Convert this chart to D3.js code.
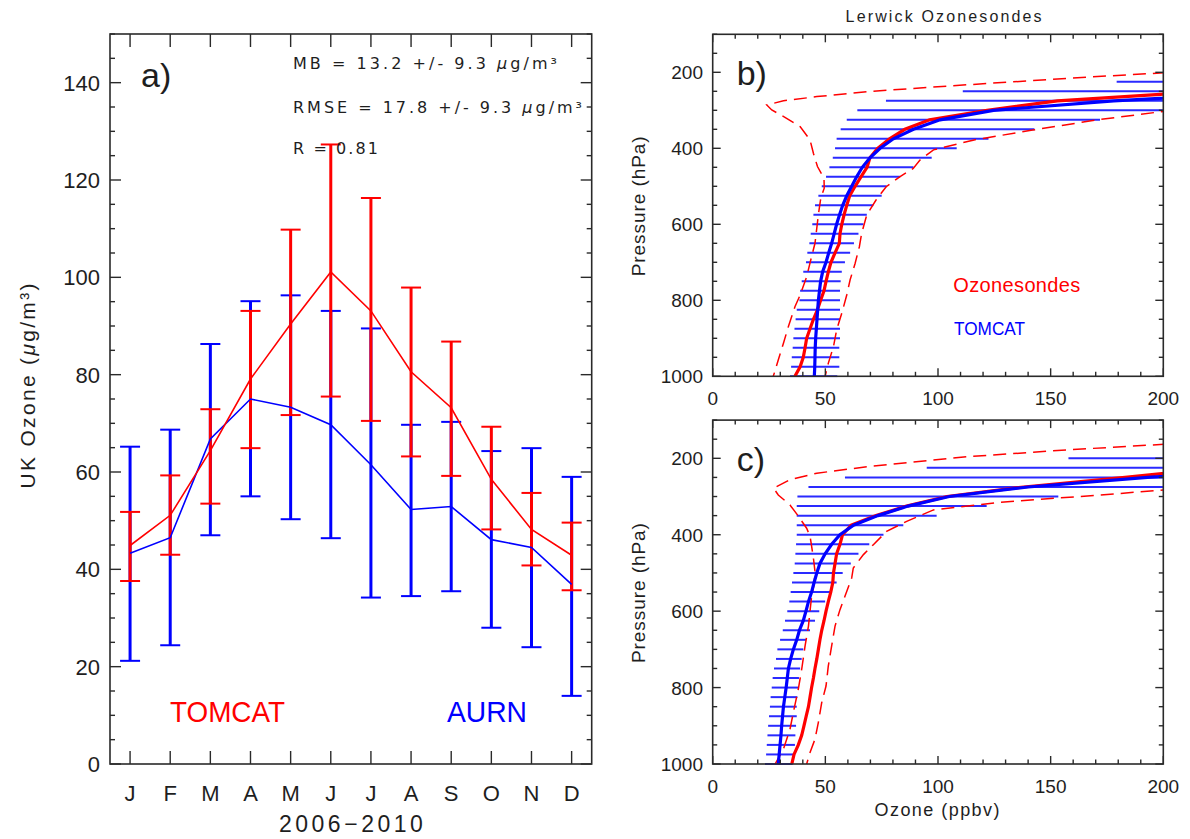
<!DOCTYPE html>
<html lang="en">
  <head>
    <meta charset="utf-8" />
    <title>UK Ozone and Lerwick Ozonesondes</title>
    <script src="https://cdnjs.cloudflare.com/ajax/libs/d3/7.0.0/d3.min.js"></script>
    <style>
      body {
        margin: 0;
        background: #ffffff;
      }
      svg {
        display: block;
        font-family: "Liberation Sans", Arial, sans-serif;
      }
      .frame {
        fill: none;
        stroke: #2a2a2a;
        stroke-width: 1.6px;
      }
      .tick {
        stroke: #2a2a2a;
        stroke-width: 1.4px;
      }
      .lbl {
        fill: #1e1e1e;
      }
      .stat {
        font-family: "DejaVu Sans", sans-serif;
      }
    </style>
  </head>

  <body>
    <script>
      // ---- panel a: monthly UK surface ozone 2006-2010 ----
      const months = ["J", "F", "M", "A", "M", "J", "J", "A", "S", "O", "N", "D"];
      const tomcatMean = [44.9, 51.1, 64.4, 79.1, 90.4, 101.1, 93.1, 80.6, 73.2, 58.5, 48.2, 42.9];
      const tomcatLo = [37.6, 43.0, 53.5, 64.9, 71.7, 75.5, 70.5, 63.2, 59.2, 48.2, 40.8, 35.7];
      const tomcatHi = [51.8, 59.3, 72.9, 93.1, 109.8, 127.3, 116.3, 97.9, 86.8, 69.3, 55.7, 49.6];
      const aurnMean = [43.3, 46.5, 66.8, 75.0, 73.3, 69.7, 61.5, 52.3, 52.9, 46.1, 44.5, 36.9];
      const aurnLo = [21.2, 24.4, 47.0, 55.0, 50.3, 46.4, 34.2, 34.5, 35.5, 28.0, 24.0, 14.0];
      const aurnHi = [65.2, 68.7, 86.3, 95.1, 96.3, 93.1, 89.5, 69.7, 70.3, 64.3, 64.9, 59.0];
      const ozoneTicks = [0, 20, 40, 60, 80, 100, 120, 140];

      // ---- panels b and c: Lerwick profiles (pressure in hPa, ozone in ppbv) ----
      const bLevels = [225, 250, 275, 300, 325, 350, 375, 400, 425, 450, 475, 500, 525, 550, 575, 600,
        625, 650, 675, 700, 725, 750, 775, 800, 825, 850, 875, 900, 925, 950, 975, 1000];
      const bTomLo = [179.3, 111.0, 76.9, 64.2, 59.5, 56.8, 55.0, 54.3, 53.3, 51.8, 50.3, 48.4, 46.9, 45.4, 44.7, 44.2,
        43.5, 42.9, 42.0, 41.4, 40.2, 39.5, 38.8, 38.5, 37.3, 36.8, 36.3, 35.8, 35.5, 35.1, 34.8, 34.3];
      const bTomHi = [260, 250, 240, 210, 171.9, 142.8, 122.4, 108.3, 97.2, 89.1, 83.2, 77.2, 75.0, 71.3, 68.4, 66.9,
        64.7, 62.7, 61.0, 58.7, 57.3, 56.8, 56.5, 56.5, 56.5, 56.5, 56.5, 56.5, 56.2, 56.2, 56.2, 55.3];
      const bTomMean = [350, 260, 178, 124.6, 100.9, 89.1, 80.2, 74.3, 69.8, 66.4, 63.9, 61.7, 59.5, 57.7, 56.3, 55.0,
        53.9, 52.8, 51.5, 50.3, 48.8, 47.9, 47.4, 46.9, 46.6, 46.3, 46.0, 45.7, 45.5, 45.4, 45.3, 45.1];
      const bSondeMean = [300, 220, 153, 121.8, 96.3, 85.3, 78.5, 73.2, 69.8, 68.5, 65.8, 63.2, 60.8, 59.5, 58.3, 57.3,
        56.5, 56.2, 54.3, 52.5, 51.3, 50.3, 49.4, 47.9, 46.5, 44.7, 43.2, 41.7, 41.0, 40.2, 38.8, 36.5];
      const bSondeLowP = [198, 216, 233, 251, 264, 275, 286, 299, 321, 343, 378, 413, 448, 479, 505, 530,
        575, 650, 685, 738, 786, 817, 869, 913, 957, 1000];
      const bSondeLowX = [210, 157, 112.7, 68.4, 46.2, 31.4, 24.0, 26.2, 32.8, 38.8, 43.2, 44.7, 46.5, 49.4, 49.5, 48.0,
        46.9, 45.4, 43.9, 41.7, 38.8, 36.5, 33.6, 31.4, 29.1, 26.9];
      const bSondeHighP = [280, 303, 324, 352, 378, 404, 431, 453, 475, 501, 536, 575, 624, 659, 703, 746,
        786, 834, 878, 922, 966, 1000];
      const bSondeHighX = [240, 200, 172, 142, 116, 98, 92, 89, 83, 77, 72.5, 68.4, 66.1, 65.1, 63.2, 61.0,
        59.5, 57.3, 55.0, 53.6, 51.3, 49.9];

      const cLevels = [200, 225, 250, 275, 300, 325, 350, 375, 400, 425, 450, 475, 500, 525, 550, 575, 600,
        625, 650, 675, 700, 725, 750, 775, 800, 825, 850, 875, 900, 925, 950, 975, 1000];
      const cTomLo = [157.9, 95.0, 58.7, 42.5, 37.6, 37.3, 37.3, 37.3, 37.3, 37.0, 36.7, 36.4, 35.8, 35.2, 34.6, 34.0, 33.1,
        32.1, 31.1, 29.9, 28.7, 28.1, 27.2, 26.6, 26.2, 25.7, 25.4, 25.0, 24.6, 24.3, 24.0, 23.7, 23.2];
      const cTomHi = [300, 290, 280, 260, 153.4, 121.6, 99.4, 84.6, 75.8, 69.5, 64.7, 61.3, 57.7, 55.0, 52.1, 49.9, 47.3,
        45.4, 43.2, 41.4, 40.2, 39.5, 38.8, 38.3, 38.0, 37.6, 37.3, 37.3, 37.0, 36.7, 36.5, 36.3, 35.5];
      const cTomMean = [330, 260, 193, 140, 105, 86.7, 73.3, 62.5, 56.5, 52.8, 49.9, 47.6, 46.2, 45.0, 43.9, 42.5, 41.4,
        40.2, 38.5, 37.3, 35.8, 34.6, 33.6, 33.1, 32.6, 32.0, 31.4, 31.0, 30.6, 30.3, 29.9, 29.5, 29.1];
      const cSondeMean = [300, 225, 183, 138, 104, 86, 72.5, 61.5, 57.6, 56.5, 55.0, 54.3, 53.6, 53.3, 52.4, 51.3, 50.3,
        49.4, 48.4, 47.6, 46.9, 46.2, 45.4, 44.7, 43.9, 43.2, 42.5, 41.5, 40.5, 39.5, 38.0, 36.1, 35.1];
      const cSondeLowP = [160, 178, 196, 222, 239, 256, 278, 296, 322, 348, 383, 404, 430, 461, 496, 530,
        561, 639, 691, 752, 804, 865, 909, 961, 1000];
      const cSondeLowX = [210, 157, 112.7, 68.4, 46.2, 34.3, 27.0, 29.1, 34.3, 37.6, 41.7, 43.2, 43.9, 44.7, 45.4, 45.0,
        43.9, 42.5, 41.0, 39.5, 38.0, 35.8, 34.3, 31.4, 27.7];
      const cSondeHighP = [270, 283, 296, 304, 315, 335, 365, 391, 426, 452, 487, 513, 561, 596, 639, 691,
        744, 796, 839, 891, 935, 970, 1000];
      const cSondeHighX = [240, 200, 172, 153, 127.5, 98, 86.1, 77.2, 71.3, 66.9, 62.4, 61.7, 58.7, 56.5, 54.3, 52.8,
        51.3, 50.3, 48.4, 46.9, 45.4, 43.2, 41.7];

      const pressureTicks = [200, 400, 600, 800, 1000];
      const ppbvTicks = [0, 50, 100, 150, 200];

      const RED = "#ff0000";
      const BLUE = "#0000ff";

      const svg = d3
        .select("body")
        .append("svg")
        .attr("width", 1190)
        .attr("height", 839);

      svg.append("rect").attr("width", 1190).attr("height", 839).attr("fill", "#fff");

      // text helper: optional textLength to mimic the wide plotting font
      function label(g, str, x, y, size, opt = {}) {
        const t = g
          .append("text")
          .attr("class", opt.cls || "lbl")
          .attr("x", x)
          .attr("y", y)
          .attr("font-size", size)
          .attr("text-anchor", opt.anchor || "start")
          .text(str);
        if (opt.fill) t.attr("fill", opt.fill).attr("class", null);
        if (opt.len) {
          t.attr("textLength", opt.len).attr("lengthAdjust", opt.adjust || "spacing");
        }
        if (opt.rotate) t.attr("transform", `rotate(-90, ${x}, ${y})`);
        return t;
      }

      /* ---------------- panel a ---------------- */
      const ga = svg.append("g");
      const ax = d3.scaleLinear().domain([0.5, 12.5]).range([110, 591.7]);
      const ay = d3.scaleLinear().domain([0, 150]).range([764, 34]);

      // minor ticks every 5, major every 20
      d3.range(0, 151, 5).forEach((v) => {
        const len = ozoneTicks.includes(v) ? 11 : 5;
        ga.append("line").attr("class", "tick")
          .attr("x1", ax.range()[0]).attr("x2", ax.range()[0] + len)
          .attr("y1", ay(v)).attr("y2", ay(v));
        ga.append("line").attr("class", "tick")
          .attr("x1", ax.range()[1]).attr("x2", ax.range()[1] - len)
          .attr("y1", ay(v)).attr("y2", ay(v));
      });
      months.forEach((m, i) => {
        const x = ax(i + 1);
        ga.append("line").attr("class", "tick")
          .attr("x1", x).attr("x2", x).attr("y1", ay(0)).attr("y2", ay(0) - 13);
        ga.append("line").attr("class", "tick")
          .attr("x1", x).attr("x2", x).attr("y1", ay(150)).attr("y2", ay(150) + 13);
        label(ga, m, x, 801, 22, { anchor: "middle" });
      });
      ozoneTicks.forEach((v) => label(ga, v, 100, ay(v) + 8, 22, { anchor: "end" }));

      // error bars: AURN first, TOMCAT over it
      function errorBars(lo, hi, color) {
        lo.forEach((l, i) => {
          const x = ax(i + 1);
          ga.append("line")
            .attr("x1", x).attr("x2", x)
            .attr("y1", ay(l)).attr("y2", ay(hi[i]))
            .attr("stroke", color).attr("stroke-width", 3);
          [l, hi[i]].forEach((v) => {
            ga.append("line")
              .attr("x1", x - 10).attr("x2", x + 10)
              .attr("y1", ay(v)).attr("y2", ay(v))
              .attr("stroke", color).attr("stroke-width", 2);
          });
        });
      }
      errorBars(aurnLo, aurnHi, BLUE);
      errorBars(tomcatLo, tomcatHi, RED);

      const monthLine = d3.line().x((d, i) => ax(i + 1)).y((d) => ay(d));
      ga.append("path").attr("d", monthLine(aurnMean))
        .attr("fill", "none").attr("stroke", BLUE).attr("stroke-width", 1.6);
      ga.append("path").attr("d", monthLine(tomcatMean))
        .attr("fill", "none").attr("stroke", RED).attr("stroke-width", 1.6);

      ga.append("rect").attr("class", "frame")
        .attr("x", 110).attr("y", 34).attr("width", 481.7).attr("height", 730);

      // annotations
      label(ga, "a)", 141, 87, 34);
      const mb = label(ga, "MB = 13.2 +/- 9.3 ", 293, 69, 16, { cls: "lbl stat" });
      mb.append("tspan").attr("font-style", "italic").text("\u03bc");
      mb.append("tspan").text("g/m\u00b3");
      mb.attr("textLength", 264).attr("lengthAdjust", "spacing");
      const rmse = label(ga, "RMSE = 17.8 +/- 9.3 ", 293, 113, 16, { cls: "lbl stat" });
      rmse.append("tspan").attr("font-style", "italic").text("\u03bc");
      rmse.append("tspan").text("g/m\u00b3");
      rmse.attr("textLength", 289).attr("lengthAdjust", "spacing");
      label(ga, "R = 0.81", 293, 154, 16, { cls: "lbl stat", len: 85 });

      label(ga, "TOMCAT", 170, 722, 29, { fill: RED, len: 115, adjust: "spacingAndGlyphs" });
      label(ga, "AURN", 447, 722, 29, { fill: BLUE, len: 80, adjust: "spacingAndGlyphs" });
      label(ga, "2006\u22122010", 350.9, 832, 23, { anchor: "middle", len: 144 });

      const yt = label(ga, "UK Ozone (", 35, 386, 21, { anchor: "middle", rotate: true });
      yt.append("tspan").attr("font-style", "italic").text("\u03bc");
      yt.append("tspan").text("g/m\u00b3)");
      yt.attr("textLength", 205).attr("lengthAdjust", "spacing");

      /* ---------------- panels b and c ---------------- */
      function profilePanel(cfg) {
        const g = svg.append("g");
        const x = d3.scaleLinear().domain([0, 200]).range([712.7, 1163.3]);
        const y = d3.scaleLinear().domain([100, 1000]).range([cfg.top, cfg.bottom]);
        const clipId = "clip-" + cfg.name;

        g.append("clipPath").attr("id", clipId)
          .append("rect")
          .attr("x", x(0)).attr("y", cfg.top)
          .attr("width", x(200) - x(0)).attr("height", cfg.bottom - cfg.top + 1);

        const plot = g.append("g").attr("clip-path", `url(#${clipId})`);

        // model variability as horizontal bars
        plot.selectAll(".bar")
          .data(cfg.levels)
          .enter()
          .append("line")
          .attr("x1", (d, i) => x(cfg.tomLo[i]))
          .attr("x2", (d, i) => x(cfg.tomHi[i]))
          .attr("y1", (d) => y(d))
          .attr("y2", (d) => y(d))
          .attr("stroke", "#2a2aff")
          .attr("stroke-width", 2);

        const pline = d3.line().x((d) => x(d[0])).y((d) => y(d[1]));
        const dashed = (px, xs) =>
          plot.append("path")
            .attr("d", pline(xs.map((v, i) => [v, px[i]])))
            .attr("fill", "none").attr("stroke", RED)
            .attr("stroke-width", 1.5).attr("stroke-dasharray", "13,7");
        dashed(cfg.lowP, cfg.lowX);
        dashed(cfg.highP, cfg.highX);

        plot.append("path")
          .attr("d", pline(cfg.sondeMean.map((v, i) => [v, cfg.levels[i]])))
          .attr("fill", "none").attr("stroke", RED).attr("stroke-width", 3.2);
        plot.append("path")
          .attr("d", pline(cfg.tomMean.map((v, i) => [v, cfg.levels[i]])))
          .attr("fill", "none").attr("stroke", BLUE).attr("stroke-width", 3.2);

        // ticks on all four sides, pointing in
        d3.range(100, 1001, 50).forEach((p) => {
          const len = pressureTicks.includes(p) ? 8 : 4.5;
          g.append("line").attr("class", "tick")
            .attr("x1", x(0)).attr("x2", x(0) + len).attr("y1", y(p)).attr("y2", y(p));
          g.append("line").attr("class", "tick")
            .attr("x1", x(200)).attr("x2", x(200) - len).attr("y1", y(p)).attr("y2", y(p));
        });
        d3.range(0, 201, 10).forEach((v) => {
          const len = ppbvTicks.includes(v) ? 8 : 4.5;
          g.append("line").attr("class", "tick")
            .attr("x1", x(v)).attr("x2", x(v)).attr("y1", cfg.bottom).attr("y2", cfg.bottom - len);
          g.append("line").attr("class", "tick")
            .attr("x1", x(v)).attr("x2", x(v)).attr("y1", cfg.top).attr("y2", cfg.top + len);
        });
        pressureTicks.forEach((p) => label(g, p, 703, y(p) + 7, 19, { anchor: "end" }));
        ppbvTicks.forEach((v) => label(g, v, x(v), cfg.bottom + 28.5, 19, { anchor: "middle" }));

        g.append("rect").attr("class", "frame")
          .attr("x", x(0)).attr("y", cfg.top)
          .attr("width", x(200) - x(0)).attr("height", cfg.bottom - cfg.top);

        label(g, cfg.name + ")", 736.7, y(100) + 50.5, 34);
        label(g, "Pressure (hPa)", 645.5, (cfg.top + cfg.bottom) / 2 + 1, 19, {
          anchor: "middle", rotate: true, len: 140,
        });
        return g;
      }

      const gb = profilePanel({
        name: "b", top: 34.3, bottom: 376.3,
        levels: bLevels, tomLo: bTomLo, tomHi: bTomHi, tomMean: bTomMean, sondeMean: bSondeMean,
        lowP: bSondeLowP, lowX: bSondeLowX, highP: bSondeHighP, highX: bSondeHighX,
      });
      label(gb, "Lerwick Ozonesondes", 943.6, 21.7, 16, { anchor: "middle", len: 196 });
      label(gb, "Ozonesondes", 953.3, 291.7, 20, { fill: RED, len: 127 });
      label(gb, "TOMCAT", 954, 335, 19, { fill: BLUE, len: 71, adjust: "spacingAndGlyphs" });

      const gc = profilePanel({
        name: "c", top: 420.1, bottom: 764,
        levels: cLevels, tomLo: cTomLo, tomHi: cTomHi, tomMean: cTomMean, sondeMean: cSondeMean,
        lowP: cSondeLowP, lowX: cSondeLowX, highP: cSondeHighP, highX: cSondeHighX,
      });
      label(gc, "Ozone (ppbv)", 937, 816, 18, { anchor: "middle", len: 125 });
    </script>
  </body>
</html>
